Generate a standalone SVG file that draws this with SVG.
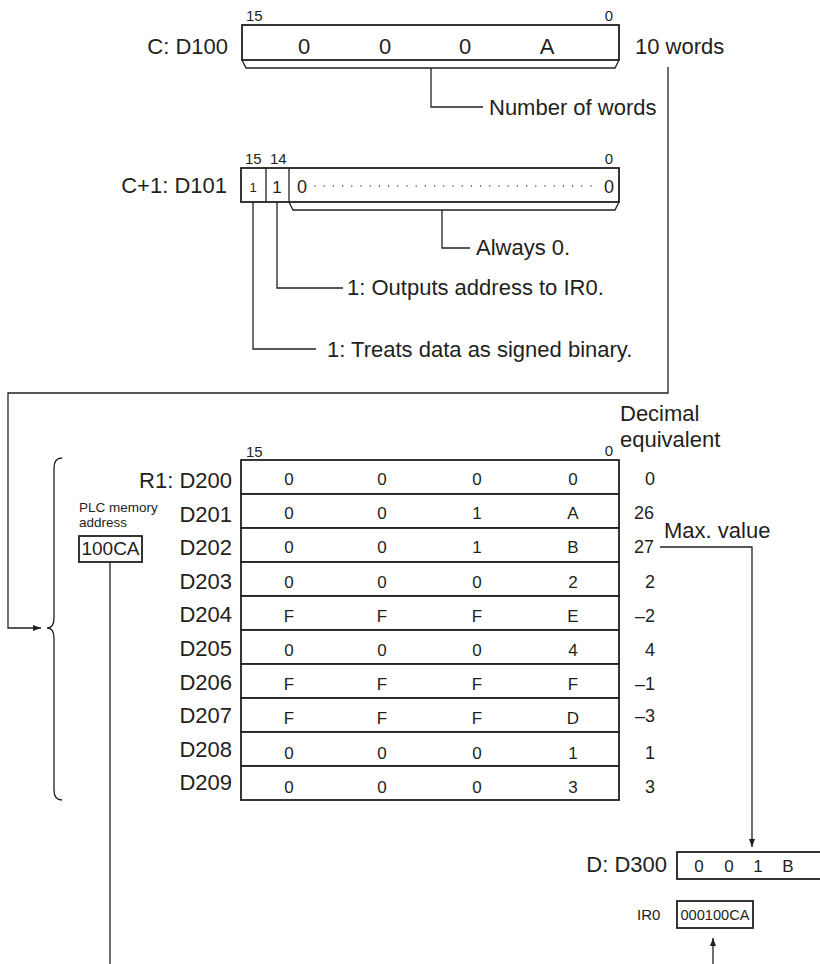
<svg xmlns="http://www.w3.org/2000/svg" width="820" height="964" viewBox="0 0 820 964">
<defs>
<marker id="arr" viewBox="0 0 8 6" refX="8" refY="3" markerWidth="8" markerHeight="6" orient="auto" markerUnits="userSpaceOnUse"><path d="M0,0 L8,3 L0,6 z" fill="#231f20"/></marker>
<style>
text{font-family:"Liberation Sans",Arial,sans-serif;fill:#231f20}
.L{font-size:22px}
.s{font-size:15px}
.m{text-anchor:middle}
.d{font-size:17px;text-anchor:middle}
.v{font-size:18px}
.box{fill:#fff;stroke:#231f20;stroke-width:1.8}
.ln{fill:none;stroke:#231f20;stroke-width:1.3}
</style>
</defs>
<rect width="820" height="964" fill="#fff"/>

<g id="connectors" class="ln">
<path d="M431,68 V107 H483"/>
<path d="M668,67 V393 H8 V628 H41" marker-end="url(#arr)"/>
<path d="M442,210 V248 H470"/>
<path d="M277,202 V288 H343"/>
<path d="M253,202 V349 H316"/>
<path d="M110,562 V964"/>
<path d="M660,547 H752 V847" marker-end="url(#arr)"/>
<path d="M713,964 V938" marker-end="url(#arr)"/>
</g>

<g id="c-d100">
<text class="L" x="228" y="54" text-anchor="end">C: D100</text>
<text class="s" x="246" y="21">15</text>
<text class="s m" x="609" y="21">0</text>
<rect class="box" x="242" y="25" width="377" height="35"/>
<path class="ln" d="M242,60 L246,68 L615,68 L619,60"/>
<text class="L m" x="304" y="54">0</text>
<text class="L m" x="385" y="54">0</text>
<text class="L m" x="465" y="54">0</text>
<text class="L m" x="547" y="54">A</text>
</g>
<text class="L" x="635" y="54">10 words</text>
<text class="L" x="489" y="115">Number of words</text>

<g id="c1-d101">
<text class="L" x="227" y="193" text-anchor="end">C+1: D101</text>
<text class="s" x="245" y="164">15</text>
<text class="s" x="270" y="164">14</text>
<text class="s m" x="609" y="164">0</text>
<rect class="box" x="241" y="168" width="378" height="34"/>
<line class="ln" x1="266" y1="168" x2="266" y2="202"/>
<line class="ln" x1="289" y1="168" x2="289" y2="202"/>
<text class="m" font-size="13" x="253" y="192">1</text>
<text class="m" font-size="17" x="277" y="193">1</text>
<text class="m" font-size="18" x="302" y="193">0</text>
<text class="m" font-size="18" x="609" y="193">0</text>
<line x1="315" y1="186" x2="600" y2="186" stroke="#231f20" stroke-width="1.3" stroke-linecap="round" stroke-dasharray="0 9.2"/>
<path class="ln" d="M289,202 L293,210 L615,210 L619,202"/>
</g>
<text class="L" x="476" y="255">Always 0.</text>
<text class="L" x="347" y="295">1: Outputs address to IR0.</text>
<text class="L" x="327" y="357">1: Treats data as signed binary.</text>

<g id="brace">
<path class="ln" stroke-width="1.5" d="M62,458 Q54,458 54,468 L54,618 Q54,628 47,628 Q54,628 54,638 L54,790 Q54,800 62,800"/>
</g>

<g id="plc-address">
<text font-size="13.5" x="79" y="512">PLC memory</text>
<text font-size="13.5" x="79" y="527">address</text>
<rect class="box" stroke-width="1.3" x="79" y="536" width="63" height="26"/>
<text class="m" font-size="19" x="110.5" y="555">100CA</text>
</g>

<g id="table-header">
<text class="s" x="246" y="457">15</text>
<text class="s m" x="609" y="456">0</text>
<text class="L" x="620" y="421">Decimal</text>
<text class="L" x="620" y="447">equivalent</text>
</g>

<g id="row-d200">
<text class="L" x="232" y="488" text-anchor="end">R1: D200</text>
<rect class="box" x="241" y="460" width="378" height="34"/>
<text class="d" x="289" y="485">0</text><text class="d" x="382" y="485">0</text><text class="d" x="477" y="485">0</text><text class="d" x="573" y="485">0</text>
<text class="v" x="645" y="485">0</text>
</g>
<g id="row-d201">
<text class="L" x="232" y="521.6" text-anchor="end">D201</text>
<rect class="box" x="241" y="494" width="378" height="34"/>
<text class="d" x="289" y="519.2">0</text><text class="d" x="382" y="519.2">0</text><text class="d" x="477" y="519.2">1</text><text class="d" x="573" y="519.2">A</text>
<text class="v" x="634" y="519.2">26</text>
</g>
<g id="row-d202">
<text class="L" x="232" y="555.2" text-anchor="end">D202</text>
<rect class="box" x="241" y="528" width="378" height="34"/>
<text class="d" x="289" y="553.4">0</text><text class="d" x="382" y="553.4">0</text><text class="d" x="477" y="553.4">1</text><text class="d" x="573" y="553.4">B</text>
<text class="v" x="634" y="553.4">27</text>
</g>
<g id="row-d203">
<text class="L" x="232" y="588.8" text-anchor="end">D203</text>
<rect class="box" x="241" y="562" width="378" height="34"/>
<text class="d" x="289" y="587.6">0</text><text class="d" x="382" y="587.6">0</text><text class="d" x="477" y="587.6">0</text><text class="d" x="573" y="587.6">2</text>
<text class="v" x="645" y="587.6">2</text>
</g>
<g id="row-d204">
<text class="L" x="232" y="622.4" text-anchor="end">D204</text>
<rect class="box" x="241" y="596" width="378" height="34"/>
<text class="d" x="289" y="621.8">F</text><text class="d" x="382" y="621.8">F</text><text class="d" x="477" y="621.8">F</text><text class="d" x="573" y="621.8">E</text>
<text class="v" x="635" y="621.8">–2</text>
</g>
<g id="row-d205">
<text class="L" x="232" y="656" text-anchor="end">D205</text>
<rect class="box" x="241" y="630" width="378" height="34"/>
<text class="d" x="289" y="656">0</text><text class="d" x="382" y="656">0</text><text class="d" x="477" y="656">0</text><text class="d" x="573" y="656">4</text>
<text class="v" x="645" y="656">4</text>
</g>
<g id="row-d206">
<text class="L" x="232" y="689.6" text-anchor="end">D206</text>
<rect class="box" x="241" y="664" width="378" height="34"/>
<text class="d" x="289" y="690.2">F</text><text class="d" x="382" y="690.2">F</text><text class="d" x="477" y="690.2">F</text><text class="d" x="573" y="690.2">F</text>
<text class="v" x="635" y="690.2">–1</text>
</g>
<g id="row-d207">
<text class="L" x="232" y="723.2" text-anchor="end">D207</text>
<rect class="box" x="241" y="698" width="378" height="34"/>
<text class="d" x="289" y="724.4">F</text><text class="d" x="382" y="724.4">F</text><text class="d" x="477" y="724.4">F</text><text class="d" x="573" y="724.4">D</text>
<text class="v" x="635" y="722">–3</text>
</g>
<g id="row-d208">
<text class="L" x="232" y="756.8" text-anchor="end">D208</text>
<rect class="box" x="241" y="732" width="378" height="34"/>
<text class="d" x="289" y="758.6">0</text><text class="d" x="382" y="758.6">0</text><text class="d" x="477" y="758.6">0</text><text class="d" x="573" y="758.6">1</text>
<text class="v" x="645" y="758.6">1</text>
</g>
<g id="row-d209">
<text class="L" x="232" y="790.4" text-anchor="end">D209</text>
<rect class="box" x="241" y="766" width="378" height="34"/>
<text class="d" x="289" y="792.8">0</text><text class="d" x="382" y="792.8">0</text><text class="d" x="477" y="792.8">0</text><text class="d" x="573" y="792.8">3</text>
<text class="v" x="645" y="792.8">3</text>
</g>

<text class="L" x="664" y="538">Max. value</text>

<g id="d300">
<text class="L" x="667" y="872" text-anchor="end">D: D300</text>
<rect class="box" stroke-width="1.3" x="677" y="852" width="160" height="27"/>
<text class="d" x="699" y="872">0</text><text class="d" x="729" y="872">0</text><text class="d" x="758" y="872">1</text><text class="d" x="788" y="872">B</text>
</g>

<g id="ir0">
<text font-size="15" x="637" y="920">IR0</text>
<rect class="box" stroke-width="1.3" x="677" y="901" width="76" height="27"/>
<text class="m" font-size="15" x="715" y="920" textLength="69" lengthAdjust="spacingAndGlyphs">000100CA</text>
</g>
</svg>
